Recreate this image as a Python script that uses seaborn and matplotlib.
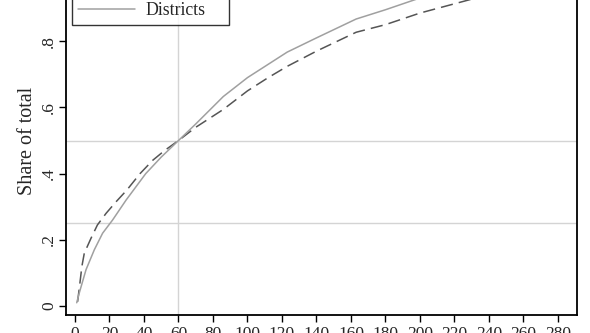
import matplotlib
matplotlib.use("Agg")
import matplotlib.pyplot as plt
import seaborn as sns
import pandas as pd

# Data
districts_x = [1, 2.5, 6.4, 11.2, 16, 21.8, 29.6, 41, 50, 60, 70, 86, 100, 123, 140, 163, 180, 198, 220, 250, 285]
districts_y = [0.01, 0.04, 0.11, 0.17, 0.22, 0.26, 0.32, 0.40, 0.45, 0.50, 0.55, 0.633, 0.69, 0.767,
               0.81, 0.867, 0.895, 0.927, 0.96, 0.99, 1.0]
other_x = [1.5, 2.5, 4, 5.4, 9.3, 13, 18, 23.8, 30, 37.7, 45, 52, 60, 70, 86, 100, 112, 123, 140, 163,
           180, 200, 230, 260, 290]
other_y = [0.013, 0.054, 0.12, 0.16, 0.205, 0.245, 0.28, 0.315, 0.35, 0.40, 0.44, 0.47, 0.50, 0.54,
           0.594, 0.65, 0.69, 0.724, 0.77, 0.827, 0.85, 0.885, 0.927, 0.97, 1.0]
series_names = ["Population", "Districts"]
x_ticks = list(range(0, 281, 20))
y_ticks = [0, 0.2, 0.4, 0.6, 0.8, 1.0]
y_tick_labels = ["0", ".2", ".4", ".6", ".8", "1"]
ref_h = [0.25, 0.5]
ref_v = [60]

sns.set_theme(style="white")
plt.rcParams['font.family'] = ['Liberation Serif', 'DejaVu Serif']

df_other = pd.DataFrame({"x": other_x, "y": other_y})
df_dist = pd.DataFrame({"x": districts_x, "y": districts_y})

fig = plt.figure(figsize=(5.9, 3.33), dpi=100)
ax = fig.add_axes([0.1119, 0.054, 0.866, 1.048])

for h in ref_h:
    ax.axhline(h, color="#d4d4d4", lw=1.0, zorder=0)
for v in ref_v:
    ax.axvline(v, color="#d4d4d4", lw=1.0, zorder=0)

sns.lineplot(data=df_other, x="x", y="y", ax=ax, color="#555555", lw=1.1,
             linestyle=(0, (8, 4)), label=series_names[0], estimator=None, sort=False)
sns.lineplot(data=df_dist, x="x", y="y", ax=ax, color="#a0a0a0", lw=1.1,
             label=series_names[1], estimator=None, sort=False)

ax.set_xlim(-5.2, 291)
ax.set_ylim(-0.027, 1.027)
ax.set_xticks(x_ticks)
ax.set_yticks(y_ticks)
ax.set_yticklabels(y_tick_labels, rotation=90, va="center")
ax.tick_params(axis="both", which="major", direction="out", length=5, width=1,
               color="black", labelsize=12.5, bottom=True, left=True)
ax.tick_params(axis="y", pad=1.5)
ax.tick_params(axis="x", pad=3)
ax.set_xlabel("")
ax.set_ylabel("Share of total", fontsize=14.5)
ax.yaxis.set_label_coords(-0.056, 0.498)

for s in ax.spines.values():
    s.set_visible(True)
    s.set_color("black")
    s.set_linewidth(1.3)

leg = ax.legend(loc="lower left", bbox_to_anchor=(72 / 590, (333 - 25) / 333),
                bbox_transform=fig.transFigure, borderaxespad=0, fontsize=12.8,
                frameon=True, fancybox=False, edgecolor="black", handlelength=3.2,
                handletextpad=0.6, borderpad=0.35, ncol=1)
leg.get_frame().set_linewidth(1.0)

fig.savefig("out.png", dpi=100)
